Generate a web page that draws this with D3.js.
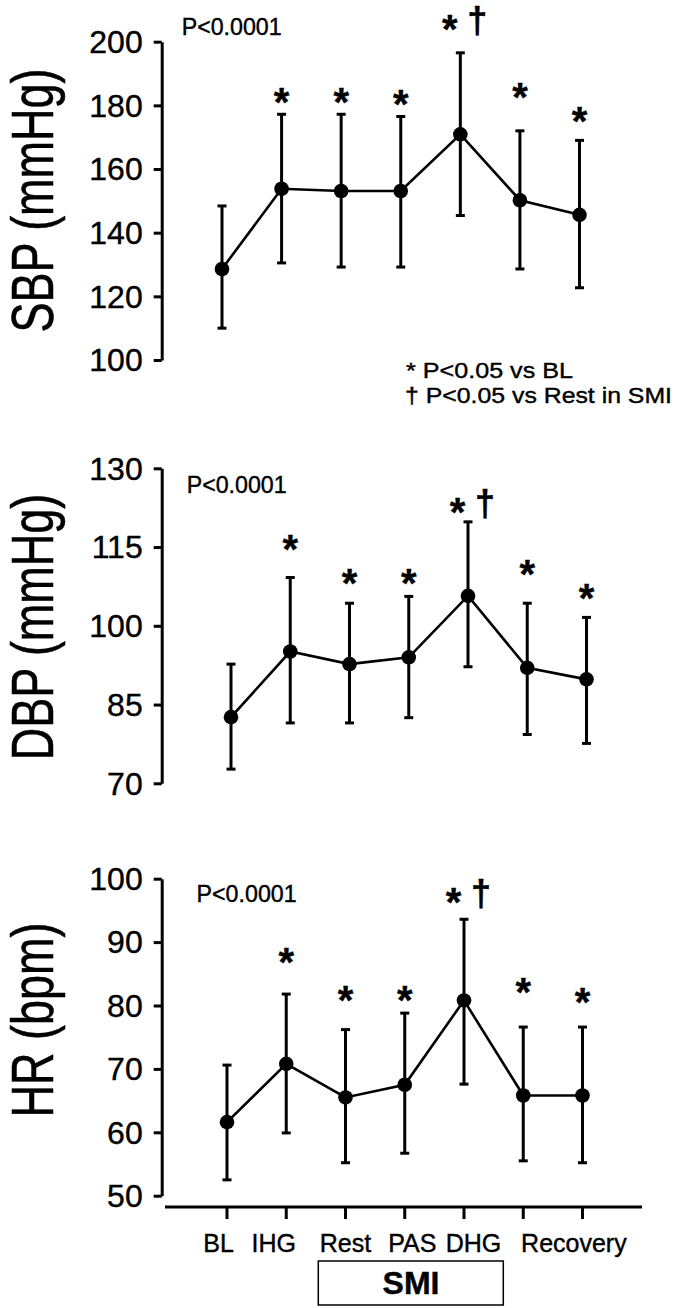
<!DOCTYPE html>
<html><head><meta charset="utf-8">
<script src="https://cdn.jsdelivr.net/npm/d3@7"></script>
<style>body{margin:0;background:#fff} svg{display:block} text{stroke:#000;stroke-width:0.4px}</style>
</head><body>
<svg id="chart" width="676" height="1308"></svg>
<script>
// ---------- DATA ----------
const categories = ["BL", "IHG", "Rest", "PAS", "DHG", "Recovery 1", "Recovery 2"];
const xLabels = ["BL", "IHG", "Rest", "PAS", "DHG", "Recovery"];
const xLabelAt = [0, 1, 2, 3, 4, 5.5];

const sbpMean  = [128.6, 153.8, 153.1, 153.1, 170.9, 150.2, 145.6];
const sbpUpper = [148.4, 177.2, 177.2, 176.5, 196.5, 172.0, 169.0];
const sbpLower = [110.0, 130.5, 129.2, 129.2, 145.4, 128.6, 122.7];
const sbpStar  = [null, 183.5, 183.5, 183.0, 206.5, 185.1, 177.7];
const sbpTicks = [100, 120, 140, 160, 180, 200];

const dbpMean  = [82.6, 95.1, 92.7, 94.0, 105.7, 92.0, 89.8];
const dbpUpper = [92.7, 109.2, 104.3, 105.6, 119.8, 104.3, 101.6];
const dbpLower = [72.7, 81.5, 81.5, 82.5, 92.2, 79.3, 77.6];
const dbpStar  = [null, 116.2, 109.6, 109.6, 123.2, 111.3, 106.8];
const dbpTicks = [70, 85, 100, 115, 130];

const hrMean  = [61.6, 70.8, 65.5, 67.5, 80.8, 65.8, 65.8];
const hrUpper = [70.6, 81.8, 76.2, 78.8, 93.6, 76.6, 76.6];
const hrLower = [52.5, 59.9, 55.2, 56.7, 67.6, 55.5, 55.2];
const hrStar  = [null, 88.2, 82.2, 82.2, 97.6, 83.4, 81.8];
const hrTicks = [50, 60, 70, 80, 90, 100];

const daggerIndex = 4;
const pText = "P<0.0001";
const legendLines = ["* P<0.05  vs BL", "\u2020 P<0.05  vs Rest in SMI"];
const groupLabel = "SMI";

// ---------- LAYOUT ----------
const FONT = "'Liberation Sans', Arial, Helvetica, sans-serif";
const svg = d3.select("#chart");
svg.append("rect").attr("width", 676).attr("height", 1308).attr("fill", "#fff").attr("stroke", "none");

const panels = [
  {title: "SBP (mmHg)", mean: sbpMean, up: sbpUpper, lo: sbpLower, star: sbpStar, ticks: sbpTicks,
   domain: [100, 200], yTop: 41.7, yBot: 360, x0: 222, x1: 579.5, pX: 181.7, pY: 35, labelY: 200.5},
  {title: "DBP (mmHg)", mean: dbpMean, up: dbpUpper, lo: dbpLower, star: dbpStar, ticks: dbpTicks,
   domain: [70, 130], yTop: 468.3, yBot: 783.3, x0: 231, x1: 586.5, pX: 186.7, pY: 492.7, labelY: 627},
  {title: "HR (bpm)", mean: hrMean, up: hrUpper, lo: hrLower, star: hrStar, ticks: hrTicks,
   domain: [50, 100], yTop: 878.7, yBot: 1195.7, x0: 227, x1: 582.5, pX: 196.6, pY: 901.7, labelY: 1020}
];
const axisX = 161.7;

panels.forEach((p, pi) => {
  const g = svg.append("g");
  const y = d3.scaleLinear().domain(p.domain).range([p.yBot, p.yTop]);
  const x = d3.scalePoint().domain(categories).range([p.x0, p.x1]);
  p.x = x;

  // y axis
  const ax = g.append("g").attr("transform", `translate(${axisX},0)`)
    .call(d3.axisLeft(y).tickValues(p.ticks).tickSize(8).tickSizeOuter(0).tickPadding(11));
  ax.select(".domain").attr("stroke", "#000").attr("stroke-width", 3);
  ax.selectAll(".tick line").attr("stroke", "#000").attr("stroke-width", 3);
  ax.selectAll(".tick text").attr("font-family", FONT).attr("font-size", 32).attr("fill", "#000")
    .attr("dy", "0.34em");

  // y label
  g.append("text")
    .attr("transform", `translate(53,${p.labelY}) rotate(-90) scale(1,1.3)`)
    .attr("text-anchor", "middle").attr("font-family", FONT).attr("font-size", 45)
    .attr("fill", "#000").text(p.title);

  // P value
  g.append("text").attr("x", p.pX).attr("y", p.pY).attr("font-family", FONT)
    .attr("font-size", 23).attr("fill", "#000").attr("textLength", 100)
    .attr("lengthAdjust", "spacingAndGlyphs").text(pText);

  const rows = categories.map((c, i) => ({c, i, m: p.mean[i], u: p.up[i], l: p.lo[i], s: p.star[i]}));

  // error bars
  const eb = g.append("g").attr("stroke", "#000").attr("stroke-width", 3);
  eb.selectAll("line.v").data(rows).join("line").attr("class", "v")
    .attr("x1", d => x(d.c)).attr("x2", d => x(d.c)).attr("y1", d => y(d.u)).attr("y2", d => y(d.l));
  eb.selectAll("line.cu").data(rows).join("line").attr("class", "cu")
    .attr("x1", d => x(d.c) - 4.5).attr("x2", d => x(d.c) + 4.5).attr("y1", d => y(d.u)).attr("y2", d => y(d.u));
  eb.selectAll("line.cl").data(rows).join("line").attr("class", "cl")
    .attr("x1", d => x(d.c) - 4.5).attr("x2", d => x(d.c) + 4.5).attr("y1", d => y(d.l)).attr("y2", d => y(d.l));

  // line
  g.append("path").datum(rows).attr("fill", "none").attr("stroke", "#000").attr("stroke-width", 2.6)
    .attr("d", d3.line().x(d => x(d.c)).y(d => y(d.m)));

  // dots
  g.selectAll("circle").data(rows).join("circle")
    .attr("cx", d => x(d.c)).attr("cy", d => y(d.m)).attr("r", 7.3).attr("fill", "#000");

  // stars
  g.selectAll("text.star").data(rows.filter(d => d.s != null)).join("text").attr("class", "star")
    .attr("x", d => x(d.c) + (d.i === daggerIndex ? -10.5 : 0))
    .attr("y", d => y(d.s) + 22)
    .attr("text-anchor", "middle").attr("font-family", FONT).attr("font-weight", "bold")
    .attr("font-size", 40).attr("fill", "#000").text("*");
  const dg = rows[daggerIndex];
  g.append("text").attr("x", x(dg.c) + 17).attr("y", y(dg.s) + 12)
    .attr("text-anchor", "middle").attr("font-family", FONT).attr("font-weight", "bold")
    .attr("font-size", 36).attr("fill", "#000").text("\u2020");
});

// legend (top panel)
svg.append("text").attr("x", 406).attr("y", 378).attr("font-family", FONT).attr("font-size", 22)
  .attr("fill", "#000").attr("textLength", 167).attr("lengthAdjust", "spacingAndGlyphs").text(legendLines[0]);
svg.append("text").attr("x", 405).attr("y", 403).attr("font-family", FONT).attr("font-size", 22)
  .attr("fill", "#000").attr("textLength", 267).attr("lengthAdjust", "spacingAndGlyphs").text(legendLines[1]);

// bottom x axis
const bx = panels[2].x;
const xa = svg.append("g").attr("transform", "translate(0,1207)");
xa.append("line").attr("x1", 165).attr("x2", 642).attr("stroke", "#000").attr("stroke-width", 3);
xa.selectAll("line.t").data(categories).join("line").attr("class", "t")
  .attr("x1", d => bx(d)).attr("x2", d => bx(d)).attr("y1", 0).attr("y2", 12)
  .attr("stroke", "#000").attr("stroke-width", 3);
const labelDx = [-8.5, -12.5, 0, 7.5, 9.5, 21];
const step = bx.step();
xa.selectAll("text").data(xLabels).join("text")
  .attr("x", (d, i) => bx(categories[0]) + xLabelAt[i] * step + labelDx[i])
  .attr("y", 44.7).attr("text-anchor", "middle").attr("font-family", FONT).attr("font-size", 25)
  .attr("fill", "#000").text(d => d);

// SMI box
svg.append("rect").attr("x", 318.3).attr("y", 1261).attr("width", 185).attr("height", 44)
  .attr("fill", "none").attr("stroke", "#000").attr("stroke-width", 1.5);
svg.append("text").attr("x", 411).attr("y", 1293.5).attr("text-anchor", "middle").attr("font-family", FONT)
  .attr("font-weight", "bold").attr("font-size", 32).attr("fill", "#000").text(groupLabel);
</script>
</body></html>
